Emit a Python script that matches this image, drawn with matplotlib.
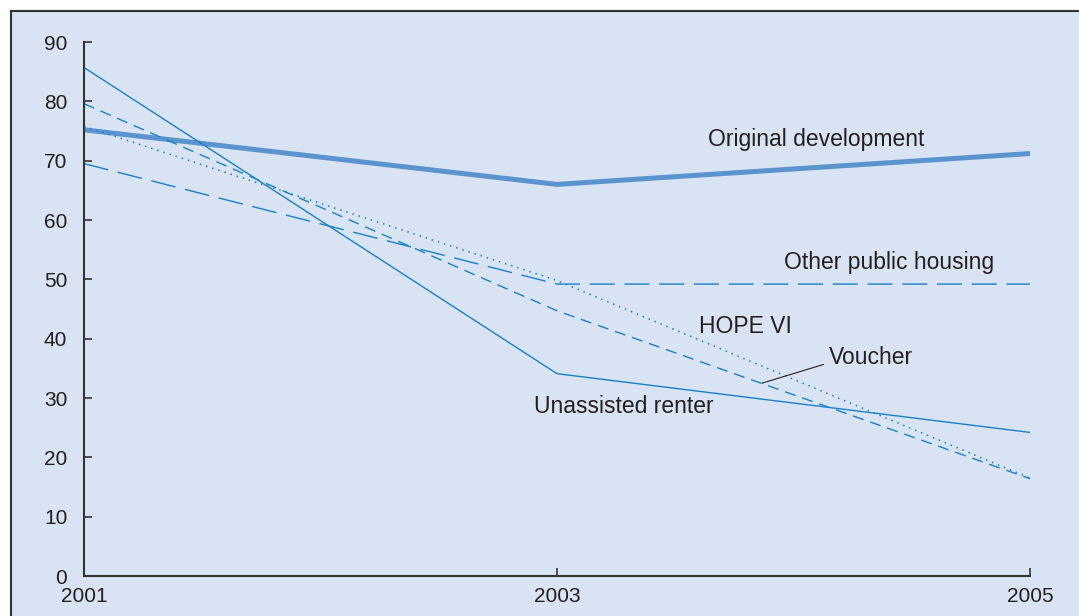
import matplotlib.pyplot as plt
from matplotlib.patches import Rectangle

plt.rcParams['font.family'] = ['Liberation Sans', 'DejaVu Sans']

years = [2001, 2003, 2005]
original = [75.2, 66.0, 71.2]
other_public = [69.5, 49.2, 49.2]
voucher = [79.6, 44.7, 16.4]
hope_vi = [75.8, 49.8, 16.5]
unassisted = [85.7, 34.1, 24.2]

bg = '#d8e4f3'
thin = '#1b80c4'
thick = '#5b93cf'
ink = '#231f20'

fig = plt.figure(figsize=(10.79, 6.16), dpi=100)
fig.patch.set_facecolor('white')
# panel background with frame on top/left
fig.patches.append(Rectangle((10.5 / 1079, -0.05), 1.1, 1 - 10.5 / 616 + 0.05,
                             transform=fig.transFigure, facecolor=bg,
                             edgecolor='#333333', linewidth=1.5, zorder=-10))

ax = fig.add_axes([84 / 1079, 1 - 576 / 616, (1030 - 84) / 1079, (576 - 42) / 616])
ax.set_facecolor('none')

ax.plot(years, original, color=thick, lw=3.6, solid_capstyle='round')
ax.plot(years, other_public, color=thin, lw=1.0, dashes=(18, 7))
ax.plot(years, voucher, color=thin, lw=1.0, dashes=(8, 5))
ax.plot(years, hope_vi, color=thin, lw=1.1, dashes=(1, 3.2))
ax.plot(years, unassisted, color=thin, lw=1.0)

ax.set_xlim(2001, 2005)
ax.set_ylim(0, 90)
ax.set_xticks(years)
ax.set_xticklabels([str(y) for y in years])
ax.set_yticks(range(0, 91, 10))

for s in ['top', 'right']:
    ax.spines[s].set_visible(False)
for s in ['left', 'bottom']:
    ax.spines[s].set_color('#333333')
    ax.spines[s].set_linewidth(1.5)

ax.tick_params(axis='y', direction='in', length=6, width=1.2, color='#333333',
               labelsize=15, labelcolor=ink, pad=12)
ax.tick_params(axis='x', direction='in', length=6, width=1.2, color='#333333',
               labelsize=15, labelcolor=ink, pad=8)

fs = 16.5
ax.text(2004.095, 73.5, 'Original development', fontsize=fs, color=ink, ha='center', va='center')
ax.text(2004.404, 52.9, 'Other public housing', fontsize=fs, color=ink, ha='center', va='center')
ax.text(2003.795, 42.0, 'HOPE VI', fontsize=fs, color=ink, ha='center', va='center')
ax.text(2003.283, 28.5, 'Unassisted renter', fontsize=fs, color=ink, ha='center', va='center')
ax.annotate('Voucher', xy=(2003.867, 32.5), xytext=(2004.15, 36.9), fontsize=fs,
            color=ink, ha='left', va='center',
            arrowprops=dict(arrowstyle='-', color=ink, lw=0.8, shrinkA=2, shrinkB=0,
                            relpos=(0, 0.25)))

fig.savefig('out.png', dpi=100, facecolor=fig.get_facecolor())
